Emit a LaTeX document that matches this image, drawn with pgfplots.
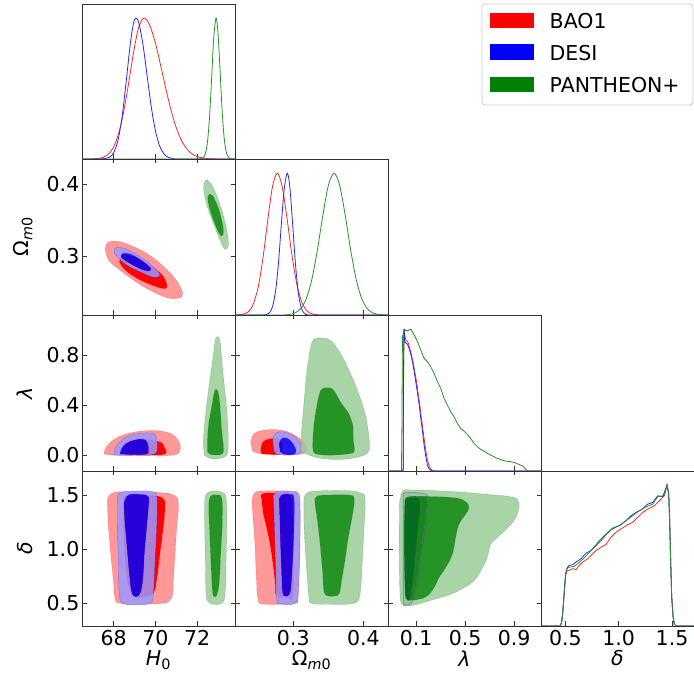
\documentclass[border=0pt]{standalone}
\usepackage{fontspec}
\setmainfont{DejaVu Sans}
\usepackage{pgfplots}
\pgfplotsset{compat=1.18}
\definecolor{rL}{RGB}{255,153,153}
\definecolor{bL}{RGB}{153,153,255}
\definecolor{gL}{RGB}{153,204,153}
\definecolor{gD}{RGB}{0,128,0}
\definecolor{axc}{RGB}{50,50,50}
\definecolor{pO}{RGB}{120,100,170}
\newcommand{\fs}{\fontsize{20.5}{24}\selectfont}
\pgfplotsset{
  panel/.style={scale only axis, width=153pt, clip=true,
    axis line style={axc, line width=0.8pt},
    tick align=inside, major tick length=4.5pt,
    every tick/.style={axc, line width=0.8pt},
    tick label style={font=\fs, inner sep=2.5pt},
    xticklabel style={yshift=-2pt},
    label style={font=\fs}, ylabel shift=8pt, xlabel shift=-1.5pt,
    /pgf/number format/assume math mode=true,
    xtick pos=both, ytick pos=both},
  oned/.style={panel, ymin=0, ymax=1.1, ytick=\empty, xtick pos=left},
  fmt1/.style={/pgf/number format/.cd, fixed, fixed zerofill, precision=1},
  ro/.style={fill=rL, draw=red, draw opacity=0.3, line width=0.4pt, smooth, tension=0.7},
  ri/.style={fill=red, draw=none, smooth, tension=0.7},
  bo/.style={fill=bL, fill opacity=0.85, draw=blue, draw opacity=0.3, line width=0.4pt, smooth, tension=0.7, even odd rule, unbounded coords=jump},
  bi/.style={fill=blue, fill opacity=0.85, draw=none, smooth, tension=0.7},
  go/.style={fill=gL, fill opacity=0.85, draw=gD, draw opacity=0.3, line width=0.4pt, smooth, tension=0.7, even odd rule, unbounded coords=jump},
  gi/.style={fill=gD, fill opacity=0.85, draw=none, smooth, tension=0.7},
  ol/.style={draw=pO, draw opacity=0.75, line width=0.6pt, smooth, tension=0.7},
  rl/.style={red!85, line width=0.8pt},
  bl/.style={blue!85, line width=0.8pt},
  gl/.style={gD!85, line width=0.8pt},
}
\begin{document}
\begin{tikzpicture}
\useasboundingbox (0pt,0pt) rectangle (694pt,675pt);
% ---------- row 1: H0 1D ----------
\begin{axis}[oned, height=155pt, at={(82pt,516pt)}, anchor=south west,
  xmin=66.48, xmax=73.82, xtick={68,70,72}, xticklabels={}]
\addplot[rl, smooth] coordinates {(66.48,0) (67.0,0.0009) (67.5,0.0117) (67.8,0.0418) (68.0,0.086) (68.2,0.162) (68.4,0.278) (68.6,0.434) (68.8,0.616) (69.0,0.795) (69.2,0.934) (69.44,1) (69.7,0.959) (70.0,0.824) (70.3,0.633) (70.6,0.436) (70.9,0.268) (71.2,0.148) (71.5,0.073) (71.8,0.032) (72.1,0.0127) (72.5,0.003) (73.0,0.0002) (73.82,0)};
\addplot[bl, smooth] coordinates {(66.48,0) (67.2,0) (67.5,0.0013) (67.8,0.013) (68.0,0.045) (68.2,0.129) (68.4,0.296) (68.6,0.550) (68.8,0.821) (68.95,0.962) (69.07,1) (69.2,0.969) (69.4,0.817) (69.6,0.595) (69.8,0.373) (70.0,0.202) (70.2,0.094) (70.4,0.038) (70.6,0.013) (70.9,0.002) (71.2,0) (73.82,0)};
\addplot[gl, smooth] coordinates {(66.48,0) (71.8,0) (72.1,0.0003) (72.3,0.0096) (72.4,0.039) (72.5,0.122) (72.6,0.301) (72.7,0.576) (72.8,0.86) (72.91,1) (73.0,0.904) (73.1,0.637) (73.2,0.349) (73.3,0.149) (73.4,0.050) (73.5,0.013) (73.6,0.0026) (73.82,0)};
\end{axis}
% ---------- row 2 ----------
\begin{axis}[panel, height=156pt, at={(82pt,360pt)}, anchor=south west,
  xmin=66.48, xmax=73.82, ymin=0.218, ymax=0.435,
  xtick={68,70,72}, xticklabels={}, ytick={0.3,0.4},
  yticklabel style={fmt1}, ylabel={Ω\textsubscript{\itshape m\upshape 0}}]
\addplot[ro] coordinates {(67.632,0.3153) (67.744,0.3194) (68.064,0.3208) (68.464,0.3185) (68.944,0.3130) (69.584,0.3037) (70.224,0.2898) (70.864,0.2713) (71.184,0.2574) (71.312,0.2481) (71.264,0.2435) (71.024,0.2412) (70.704,0.2412) (70.224,0.2458) (69.584,0.2551) (68.944,0.2667) (68.304,0.2805) (67.824,0.2921) (67.632,0.3037) (67.6,0.3106)} --cycle;
\addplot[ri] coordinates {(68.304,0.2967) (68.464,0.3014) (68.944,0.2991) (69.584,0.2898) (70.224,0.2768) (70.512,0.2643) (70.544,0.2565) (70.384,0.2546) (69.904,0.2588) (69.264,0.2667) (68.704,0.2768) (68.384,0.2861) (68.272,0.2921)} --cycle;
\addplot[bo] coordinates {(68.032,0.3093) (68.176,0.3120) (68.624,0.3093) (69.264,0.2991) (69.904,0.2852) (70.192,0.2759) (70.144,0.2713) (69.824,0.2713) (69.264,0.2782) (68.624,0.2875) (68.144,0.3000) (68.032,0.3051) (68.032,0.3093) (nan,nan)
 (68.432,0.3037) (68.784,0.3028) (69.264,0.2954) (69.712,0.2852) (69.776,0.2815) (69.664,0.2792) (69.264,0.2824) (68.784,0.2898) (68.416,0.2967) (68.352,0.3005)} --cycle;
\addplot[bi] coordinates {(68.432,0.3037) (68.784,0.3028) (69.264,0.2954) (69.712,0.2852) (69.776,0.2815) (69.664,0.2792) (69.264,0.2824) (68.784,0.2898) (68.416,0.2967) (68.352,0.3005)} --cycle;
\addplot[go] coordinates {(72.432,0.4056) (72.592,0.4032) (72.864,0.3894) (73.184,0.3639) (73.424,0.3361) (73.504,0.3176) (73.424,0.3106) (73.296,0.3106) (73.104,0.3222) (72.784,0.3454) (72.496,0.3685) (72.336,0.3894) (72.336,0.4009) (72.432,0.4056) (nan,nan)
 (72.592,0.3861) (72.784,0.3824) (73.024,0.3662) (73.184,0.35) (73.264,0.3361) (73.232,0.3292) (73.104,0.3292) (72.912,0.3407) (72.704,0.3569) (72.544,0.3731) (72.512,0.3824)} --cycle;
\addplot[gi] coordinates {(72.592,0.3861) (72.784,0.3824) (73.024,0.3662) (73.184,0.35) (73.264,0.3361) (73.232,0.3292) (73.104,0.3292) (72.912,0.3407) (72.704,0.3569) (72.544,0.3731) (72.512,0.3824)} --cycle;
\end{axis}
\begin{axis}[oned, height=156pt, at={(235pt,360pt)}, anchor=south west,
  xmin=0.217, xmax=0.435, xtick={0.3,0.4}, xticklabels={}]
\addplot[rl, smooth] coordinates {(0.217,0.0003) (0.225,0.0024) (0.235,0.019) (0.242,0.065) (0.250,0.195) (0.257,0.408) (0.263,0.642) (0.270,0.894) (0.2771,1) (0.284,0.911) (0.291,0.686) (0.298,0.426) (0.305,0.22) (0.312,0.093) (0.319,0.032) (0.326,0.0093) (0.335,0.0015) (0.345,0) (0.435,0)};
\addplot[bl, smooth] coordinates {(0.217,0) (0.255,0.0002) (0.262,0.0038) (0.267,0.021) (0.271,0.068) (0.275,0.177) (0.279,0.371) (0.283,0.636) (0.287,0.882) (0.2914,1) (0.295,0.908) (0.299,0.65) (0.303,0.37) (0.307,0.164) (0.311,0.057) (0.315,0.016) (0.320,0.0023) (0.325,0) (0.435,0)};
\addplot[gl, smooth] coordinates {(0.217,0) (0.280,0.0002) (0.290,0.0016) (0.300,0.0093) (0.310,0.040) (0.318,0.108) (0.326,0.24) (0.334,0.447) (0.342,0.697) (0.350,0.913) (0.3581,1) (0.366,0.917) (0.374,0.705) (0.382,0.453) (0.390,0.244) (0.398,0.110) (0.406,0.042) (0.414,0.013) (0.424,0.0024) (0.435,0.0003)};
\end{axis}
% ---------- row 3 ----------
\begin{axis}[panel, height=156pt, at={(82pt,204pt)}, anchor=south west,
  xmin=66.48, xmax=73.82, ymin=-0.128, ymax=1.123,
  xtick={68,70,72}, xticklabels={}, ytick={0,0.4,0.8},
  yticklabel style={fmt1}, ylabel={\itshape λ}]
\addplot[ro] coordinates {(67.536,0.0134) (67.664,0.0669) (67.984,0.1204) (68.464,0.1606) (68.944,0.182) (69.584,0.1953) (70.224,0.1927) (70.704,0.1739) (71.024,0.1338) (71.184,0.0803) (71.152,0.0268) (70.864,0.0) (69.904,-0.0054) (68.944,-0.0054) (67.984,0) (67.536,0.008)} --cycle;
\addplot[ri] coordinates {(68.384,0.0134) (68.544,0.0937) (68.944,0.1258) (69.584,0.1258) (69.984,0.1151) (70.304,0.099) (70.416,0.0669) (70.464,0.008) (69.584,0.0027) (68.624,0.0027)} --cycle;
\addplot[bo] coordinates {(68.016,0.008) (68.064,0.0535) (68.304,0.107) (68.704,0.1525) (69.264,0.1739) (69.824,0.1739) (70.032,0.1472) (70.096,0.0669) (70.032,0.0187) (69.744,0.0027) (68.944,0) (68.064,0) (68.016,0.008) (nan,nan)
 (68.304,0.008) (68.384,0.0535) (68.624,0.0937) (69.024,0.1204) (69.424,0.1258) (69.616,0.099) (69.664,0.0401) (69.584,0.008) (68.944,0.0027)} --cycle;
\addplot[bi] coordinates {(68.304,0.008) (68.384,0.0535) (68.624,0.0937) (69.024,0.1204) (69.424,0.1258) (69.616,0.099) (69.664,0.0401) (69.584,0.008) (68.944,0.0027)} --cycle;
\addplot[go] coordinates {(72.352,0) (72.304,0.0937) (72.336,0.2007) (72.432,0.3613) (72.592,0.5753) (72.752,0.7627) (72.864,0.9098) (72.976,0.95) (73.104,0.9098) (73.184,0.7627) (73.296,0.5753) (73.424,0.3613) (73.488,0.1739) (73.488,0.0669) (73.424,0) (73.104,-0.0268) (72.624,-0.0268) (72.352,0) (nan,nan)
 (72.496,0.0268) (72.496,0.1204) (72.56,0.2542) (72.704,0.388) (72.816,0.4951) (72.912,0.5272) (73.024,0.4951) (73.104,0.388) (73.184,0.2007) (73.264,0.0669) (73.232,0.0134) (72.944,0) (72.624,0.0054)} --cycle;
\addplot[gi] coordinates {(72.496,0.0268) (72.496,0.1204) (72.56,0.2542) (72.704,0.388) (72.816,0.4951) (72.912,0.5272) (73.024,0.4951) (73.104,0.388) (73.184,0.2007) (73.264,0.0669) (73.232,0.0134) (72.944,0) (72.624,0.0054)} --cycle;
\end{axis}
\begin{axis}[panel, height=156pt, at={(235pt,204pt)}, anchor=south west,
  xmin=0.217, xmax=0.435, ymin=-0.128, ymax=1.123,
  xtick={0.3,0.4}, xticklabels={}, ytick={0,0.4,0.8}, yticklabels={}]
\addplot[ro] coordinates {(0.2395,0.0987) (0.2419,0.152) (0.249,0.1867) (0.2633,0.2027) (0.2776,0.2027) (0.2919,0.1867) (0.3038,0.152) (0.3133,0.112) (0.3195,0.064) (0.318,0.0267) (0.3085,0.0053) (0.2824,0.0053) (0.2538,0.0107) (0.2419,0.032)} --cycle;
\addplot[ri] coordinates {(0.2538,0.0453) (0.2562,0.0987) (0.2633,0.1253) (0.2752,0.1333) (0.2824,0.112) (0.2847,0.032) (0.2824,0.0053) (0.2633,0.0053) (0.2547,0.0107)} --cycle;
\addplot[bo] coordinates {(0.2705,0.1333) (0.2752,0.176) (0.2847,0.1867) (0.2966,0.1653) (0.3061,0.1253) (0.3109,0.08) (0.3109,0.032) (0.3061,0.0053) (0.2871,0) (0.2752,0.0107) (0.2719,0.064) (0.2705,0.1333) (nan,nan)
 (0.28,0.0853) (0.2824,0.1253) (0.2881,0.1387) (0.2957,0.1173) (0.3014,0.072) (0.3038,0.032) (0.3004,0.0053) (0.2871,0.0053) (0.2814,0.032)} --cycle;
\addplot[bi] coordinates {(0.28,0.0853) (0.2824,0.1253) (0.2881,0.1387) (0.2957,0.1173) (0.3014,0.072) (0.3038,0.032) (0.3004,0.0053) (0.2871,0.0053) (0.2814,0.032)} --cycle;
\addplot[go] coordinates {(0.3109,0.032) (0.3119,0.192) (0.3147,0.3787) (0.318,0.592) (0.3214,0.752) (0.3252,0.872) (0.329,0.9254) (0.3395,0.9387) (0.3514,0.9254) (0.3585,0.8854) (0.368,0.8054) (0.3799,0.672) (0.3918,0.512) (0.4013,0.352) (0.4061,0.2187) (0.4085,0.0853) (0.4061,0.0187) (0.3918,-0.016) (0.368,-0.0347) (0.3395,-0.0267) (0.3204,0.0053) (0.3109,0.032) (nan,nan)
 (0.3276,0.072) (0.329,0.2187) (0.3323,0.352) (0.3371,0.4854) (0.3418,0.5334) (0.3514,0.5387) (0.3585,0.512) (0.368,0.4187) (0.3799,0.3254) (0.3847,0.2454) (0.3856,0.1253) (0.3871,0.032) (0.3799,0.0107) (0.3585,0) (0.3347,0.0053) (0.3285,0.032)} --cycle;
\addplot[gi] coordinates {(0.3276,0.072) (0.329,0.2187) (0.3323,0.352) (0.3371,0.4854) (0.3418,0.5334) (0.3514,0.5387) (0.3585,0.512) (0.368,0.4187) (0.3799,0.3254) (0.3847,0.2454) (0.3856,0.1253) (0.3871,0.032) (0.3799,0.0107) (0.3585,0) (0.3347,0.0053) (0.3285,0.032)} --cycle;
\end{axis}
\begin{axis}[oned, height=156pt, at={(388pt,204pt)}, anchor=south west,
  xmin=-0.13, xmax=1.12, xtick={0.1,0.5,0.9}, xticklabels={}]
\addplot[rl] coordinates {(-0.13,0) (-0.006,0) (-0.003,0.6) (0.001,1.0) (0.006,0.95) (0.02,0.92) (0.033,0.91) (0.052,0.85) (0.072,0.78) (0.087,0.71) (0.101,0.64) (0.115,0.555) (0.129,0.47) (0.143,0.375) (0.157,0.28) (0.171,0.19) (0.185,0.11) (0.199,0.055) (0.213,0.022) (0.227,0.008) (0.245,0.001) (0.26,0) (1.12,0)};
\addplot[bl] coordinates {(-0.13,0) (-0.01,0) (-0.006,0.02) (-0.004,0.6) (0.0,1.0) (0.004,1.0) (0.008,0.91) (0.02,0.9) (0.030,0.893) (0.051,0.841) (0.070,0.771) (0.084,0.700) (0.097,0.630) (0.111,0.548) (0.125,0.465) (0.138,0.371) (0.152,0.277) (0.165,0.183) (0.179,0.101) (0.192,0.042) (0.206,0.014) (0.219,0.005) (0.235,0) (1.12,0)};
\addplot[gl] coordinates {(-0.13,0) (-0.02,0) (-0.0165,0.3) (-0.012,0.95) (0.0025,0.982) (0.016,0.994) (0.030,0.987) (0.043,0.996) (0.057,1.0) (0.070,0.98) (0.084,0.959) (0.111,0.912) (0.138,0.853) (0.165,0.794) (0.192,0.771) (0.219,0.736) (0.246,0.689) (0.274,0.630) (0.301,0.583) (0.328,0.512) (0.355,0.465) (0.382,0.418) (0.409,0.383) (0.436,0.336) (0.463,0.301) (0.490,0.282) (0.517,0.259) (0.545,0.230) (0.572,0.195) (0.599,0.172) (0.626,0.153) (0.653,0.141) (0.680,0.125) (0.707,0.113) (0.734,0.101) (0.761,0.089) (0.788,0.082) (0.816,0.073) (0.843,0.068) (0.870,0.066) (0.897,0.061) (0.924,0.052) (0.951,0.042) (0.978,0.031) (0.992,0.014) (1.005,0.005) (1.019,0) (1.12,0)};
\end{axis}
% ---------- row 4 ----------
\begin{axis}[panel, height=155pt, at={(82pt,49pt)}, anchor=south west,
  xmin=66.48, xmax=73.82, ymin=0.29, ymax=1.722,
  xtick={68,70,72}, ytick={0.5,1.0,1.5},
  yticklabel style={fmt1}, ylabel={\itshape δ}, xlabel={{\itshape H}\textsubscript{0}}]
\addplot[ro] coordinates {(67.696,1.423) (67.904,1.515) (68.944,1.531) (70.224,1.522) (70.864,1.5) (71.104,1.423) (71.024,1.208) (70.944,0.962) (70.864,0.715) (70.832,0.592) (70.704,0.531) (70.384,0.5) (69.264,0.494) (68.304,0.5) (68.064,0.546) (67.984,0.715) (67.856,0.962) (67.744,1.208)} --cycle;
\addplot[ri] coordinates {(68.464,1.485) (69.264,1.5) (70.064,1.491) (70.416,1.46) (70.464,1.392) (70.384,1.208) (70.224,0.962) (70.064,0.715) (69.904,0.592) (69.424,0.555) (69.024,0.562) (68.704,0.654) (68.544,0.9) (68.464,1.208)} --cycle;
\addplot[bo] coordinates {(68.176,1.485) (68.384,1.525) (69.264,1.537) (69.824,1.531) (70.064,1.485) (70.064,1.208) (69.984,0.9) (69.904,0.592) (69.744,0.5) (68.944,0.485) (68.464,0.5) (68.272,0.577) (68.224,0.9) (68.176,1.208) (68.176,1.485) (nan,nan)
 (68.496,1.423) (68.704,1.5) (69.264,1.506) (69.664,1.485) (69.664,1.392) (69.584,1.208) (69.472,0.962) (69.392,0.715) (69.264,0.592) (69.024,0.562) (68.864,0.608) (68.752,0.777) (68.624,1.054) (68.528,1.269)} --cycle;
\addplot[bi] coordinates {(68.496,1.423) (68.704,1.5) (69.264,1.506) (69.664,1.485) (69.664,1.392) (69.584,1.208) (69.472,0.962) (69.392,0.715) (69.264,0.592) (69.024,0.562) (68.864,0.608) (68.752,0.777) (68.624,1.054) (68.528,1.269)} --cycle;
\addplot[go] coordinates {(72.368,1.454) (72.464,1.515) (72.784,1.537) (73.184,1.525) (73.392,1.469) (73.424,1.208) (73.392,0.9) (73.344,0.592) (73.184,0.5) (72.784,0.491) (72.544,0.515) (72.432,0.592) (72.4,0.9) (72.368,1.208) (72.368,1.454) (nan,nan)
 (72.56,1.423) (72.656,1.491) (72.944,1.5) (73.184,1.469) (73.216,1.269) (73.136,0.962) (73.072,0.715) (72.976,0.592) (72.864,0.562) (72.752,0.592) (72.688,0.777) (72.624,1.054) (72.576,1.269)} --cycle;
\addplot[gi] coordinates {(72.56,1.423) (72.656,1.491) (72.944,1.5) (73.184,1.469) (73.216,1.269) (73.136,0.962) (73.072,0.715) (72.976,0.592) (72.864,0.562) (72.752,0.592) (72.688,0.777) (72.624,1.054) (72.576,1.269)} --cycle;
\end{axis}
\begin{axis}[panel, height=155pt, at={(235pt,49pt)}, anchor=south west,
  xmin=0.217, xmax=0.435, ymin=0.29, ymax=1.722,
  xtick={0.3,0.4}, ytick={0.5,1.0,1.5}, yticklabels={},
  xticklabel style={fmt1}, xlabel={Ω\textsubscript{\itshape m\upshape 0}}]
\addplot[ro] coordinates {(0.2414,1.454) (0.2453,1.522) (0.2571,1.537) (0.281,1.537) (0.2976,1.531) (0.3071,1.5) (0.3095,1.208) (0.3071,0.592) (0.3024,0.5) (0.281,0.491) (0.2571,0.494) (0.25,0.531) (0.2476,0.715) (0.2453,1.054) (0.2419,1.362)} --cycle;
\addplot[ri] coordinates {(0.2548,1.469) (0.2571,1.515) (0.281,1.515) (0.2952,1.5) (0.3,1.208) (0.3,0.592) (0.2905,0.562) (0.2762,0.568) (0.2738,0.715) (0.2667,1.054) (0.2571,1.331)} --cycle;
\addplot[bo] coordinates {(0.2714,1.485) (0.2762,1.531) (0.2929,1.537) (0.3048,1.515) (0.3095,1.454) (0.3095,1.054) (0.3071,0.592) (0.3048,0.515) (0.2976,0.491) (0.2833,0.494) (0.2762,0.531) (0.2752,0.746) (0.2738,1.054) (0.2724,1.362) (0.2714,1.485) (nan,nan)
 (0.28,1.454) (0.2833,1.5) (0.2952,1.506) (0.301,1.469) (0.301,1.208) (0.299,0.9) (0.2967,0.654) (0.2938,0.577) (0.2881,0.568) (0.2848,0.608) (0.2833,0.808) (0.2819,1.054) (0.281,1.269)} --cycle;
\addplot[bi] coordinates {(0.28,1.454) (0.2833,1.5) (0.2952,1.506) (0.301,1.469) (0.301,1.208) (0.299,0.9) (0.2967,0.654) (0.2938,0.577) (0.2881,0.568) (0.2848,0.608) (0.2833,0.808) (0.2819,1.054) (0.281,1.269)} --cycle;
\addplot[go] coordinates {(0.3152,1.454) (0.319,1.515) (0.3333,1.537) (0.3762,1.54) (0.3976,1.515) (0.4024,1.454) (0.4009,1.208) (0.3985,0.9) (0.3962,0.654) (0.3928,0.531) (0.381,0.494) (0.3524,0.491) (0.3262,0.5) (0.3224,0.562) (0.32,0.746) (0.3167,1.054) (0.3152,1.269) (0.3152,1.454) (nan,nan)
 (0.3309,1.454) (0.3343,1.491) (0.3524,1.5) (0.3786,1.5) (0.3867,1.469) (0.3848,1.331) (0.3786,1.115) (0.3738,0.9) (0.369,0.715) (0.3657,0.592) (0.3595,0.568) (0.35,0.568) (0.3438,0.608) (0.3419,0.777) (0.3381,1.054) (0.3343,1.269) (0.3314,1.392)} --cycle;
\addplot[gi] coordinates {(0.3309,1.454) (0.3343,1.491) (0.3524,1.5) (0.3786,1.5) (0.3867,1.469) (0.3848,1.331) (0.3786,1.115) (0.3738,0.9) (0.369,0.715) (0.3657,0.592) (0.3595,0.568) (0.35,0.568) (0.3438,0.608) (0.3419,0.777) (0.3381,1.054) (0.3343,1.269) (0.3314,1.392)} --cycle;
\end{axis}
\begin{axis}[panel, height=155pt, at={(388pt,49pt)}, anchor=south west,
  xmin=-0.13, xmax=1.12, ymin=0.29, ymax=1.722,
  xtick={0.1,0.5,0.9}, ytick={0.5,1.0,1.5}, yticklabels={},
  xticklabel style={fmt1}, xlabel={\itshape λ}]
\addplot[ro] coordinates {(-0.003,1.5) (0.02,1.525) (0.17,1.51) (0.197,1.47) (0.192,1.38) (0.17,1.16) (0.143,0.95) (0.116,0.73) (0.083,0.55) (0.06,0.495) (0.018,0.485) (0,0.52) (-0.003,0.8) (-0.003,1.26)} --cycle;
\addplot[ri] coordinates {(0.01,1.43) (0.027,1.47) (0.115,1.47) (0.131,1.43) (0.128,1.32) (0.109,1.1) (0.087,0.86) (0.066,0.64) (0.047,0.535) (0.026,0.535) (0.012,0.61) (0.01,0.95)} --cycle;
\addplot[bo] coordinates {(-0.0056,1.5) (0.016,1.522) (0.1651,1.512) (0.1922,1.475) (0.1868,1.383) (0.1651,1.168) (0.138,0.952) (0.111,0.737) (0.0784,0.552) (0.0567,0.497) (0.016,0.485) (-0.0029,0.522) (-0.0056,0.798) (-0.0056,1.26) (-0.0056,1.5) (nan,nan)
 (0.0079,1.429) (0.0242,1.469) (0.111,1.469) (0.1272,1.429) (0.1245,1.322) (0.1055,1.106) (0.0838,0.86) (0.0621,0.645) (0.0432,0.537) (0.0242,0.537) (0.0106,0.614) (0.0079,0.952)} --cycle;
\addplot[bi] coordinates {(0.0079,1.429) (0.0242,1.469) (0.111,1.469) (0.1272,1.429) (0.1245,1.322) (0.1055,1.106) (0.0838,0.86) (0.0621,0.645) (0.0432,0.537) (0.0242,0.537) (0.0106,0.614) (0.0079,0.952)} --cycle;
\addplot[go] coordinates {(-0.0381,1.383) (-0.011,1.531) (0.0838,1.546) (0.409,1.531) (0.68,1.506) (0.8833,1.482) (0.932,1.445) (0.9374,1.383) (0.8968,1.26) (0.7613,1.106) (0.7071,1.045) (0.68,0.922) (0.6258,0.798) (0.5716,0.706) (0.4903,0.645) (0.3819,0.583) (0.2464,0.537) (0.111,0.491) (0.0296,0.475) (-0.0192,0.491) (-0.0327,0.614) (-0.0381,0.952) (-0.0381,1.26) (-0.0381,1.383) (nan,nan)
 (0.0079,1.445) (0.0296,1.482) (0.138,1.488) (0.409,1.475) (0.5039,1.438) (0.531,1.383) (0.5039,1.322) (0.4497,1.229) (0.4226,1.106) (0.3955,0.952) (0.3413,0.829) (0.2871,0.737) (0.2464,0.645) (0.1922,0.568) (0.1245,0.537) (0.0567,0.528) (0.016,0.546) (0.0079,0.677) (0.0025,0.952) (0.0025,1.26)} --cycle;
\addplot[gi] coordinates {(0.0079,1.445) (0.0296,1.482) (0.138,1.488) (0.409,1.475) (0.5039,1.438) (0.531,1.383) (0.5039,1.322) (0.4497,1.229) (0.4226,1.106) (0.3955,0.952) (0.3413,0.829) (0.2871,0.737) (0.2464,0.645) (0.1922,0.568) (0.1245,0.537) (0.0567,0.528) (0.016,0.546) (0.0079,0.677) (0.0025,0.952) (0.0025,1.26)} --cycle;
\addplot[ol] coordinates {(-0.0056,1.5) (0.016,1.522) (0.1651,1.512) (0.1922,1.475) (0.1868,1.383) (0.1651,1.168) (0.138,0.952) (0.111,0.737) (0.0784,0.552) (0.0567,0.497) (0.016,0.485) (-0.0029,0.522) (-0.0056,0.798) (-0.0056,1.26)} --cycle;
\end{axis}
\begin{axis}[oned, height=155pt, at={(541pt,49pt)}, anchor=south west,
  xmin=0.272, xmax=1.706, xtick={0.5,1.0,1.5},
  xticklabel style={fmt1}, xlabel={\itshape δ}]
\addplot[rl] coordinates {(0.272,0) (0.453,0) (0.466,0.03) (0.478,0.11) (0.491,0.25) (0.503,0.36) (0.516,0.39) (0.528,0.395) (0.538,0.395) (0.569,0.407) (0.600,0.400) (0.631,0.430) (0.663,0.454) (0.709,0.477) (0.741,0.501) (0.788,0.536) (0.835,0.559) (0.881,0.578) (0.928,0.630) (0.975,0.665) (1.022,0.689) (1.085,0.719) (1.131,0.736) (1.178,0.771) (1.225,0.806) (1.272,0.830) (1.334,0.853) (1.381,0.888) (1.428,0.924) (1.453,1.0) (1.469,0.935) (1.478,0.747) (1.488,0.442) (1.497,0.207) (1.51,0.066) (1.522,0.012) (1.538,0) (1.706,0)};
\addplot[bl] coordinates {(0.272,0) (0.453,0) (0.466,0.031) (0.478,0.113) (0.491,0.254) (0.503,0.371) (0.516,0.41) (0.528,0.425) (0.538,0.430) (0.569,0.435) (0.600,0.454) (0.647,0.477) (0.694,0.517) (0.741,0.536) (0.788,0.571) (0.835,0.606) (0.881,0.649) (0.928,0.682) (0.960,0.696) (1.022,0.719) (1.085,0.759) (1.116,0.783) (1.178,0.813) (1.210,0.823) (1.272,0.865) (1.319,0.877) (1.366,0.924) (1.413,0.917) (1.453,1.0) (1.469,0.935) (1.478,0.747) (1.488,0.442) (1.497,0.207) (1.51,0.066) (1.522,0.012) (1.538,0) (1.706,0)};
\addplot[gl] coordinates {(0.272,0) (0.453,0) (0.466,0.031) (0.478,0.113) (0.491,0.254) (0.503,0.371) (0.516,0.407) (0.528,0.414) (0.538,0.418) (0.5845,0.423) (0.616,0.442) (0.678,0.484) (0.741,0.536) (0.819,0.606) (0.897,0.665) (0.944,0.696) (1.006,0.712) (1.069,0.747) (1.131,0.783) (1.194,0.818) (1.256,0.846) (1.319,0.865) (1.366,0.917) (1.413,0.924) (1.428,0.931) (1.453,1.0) (1.469,0.935) (1.478,0.747) (1.488,0.442) (1.497,0.207) (1.51,0.066) (1.522,0.012) (1.538,0) (1.706,0)};
\end{axis}
% ---------- legend ----------
\draw[rounded corners=3pt, black!20, line width=0.8pt, fill=white] (482pt,570pt) rectangle (693pt,671pt);
\fill[red] (489.5pt,646.7pt) rectangle (534pt,661.7pt);
\fill[blue] (489.5pt,615pt) rectangle (534pt,630.7pt);
\fill[gD] (489.5pt,583.3pt) rectangle (534pt,598.3pt);
\node[anchor=base west, inner sep=0pt, font=\fs] at (549.5pt,646pt) {BAO1};
\node[anchor=base west, inner sep=0pt, font=\fs] at (549.5pt,614.3pt) {DESI};
\node[anchor=base west, inner sep=0pt, font=\fs] at (549.5pt,582.7pt) {PANTHEON+};
\end{tikzpicture}
\end{document}
